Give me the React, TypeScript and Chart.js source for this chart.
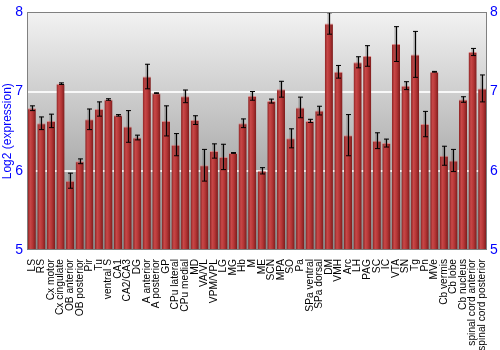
import React, { useEffect, useRef } from "react";
import { Chart, registerables } from "chart.js";

Chart.register(...registerables);

const categories = [
  "LS", "RS", "Cx motor", "Cx cingulate", "OB anterior", "OB posterior", "Pir", "Tu",
  "ventral S", "CA1", "CA2/CA3", "DG", "A anterior", "A posterior", "GP", "CPu lateral",
  "CPu medial", "MD", "VA/VL", "VPM/VPL", "LG", "MG", "Hb", "M", "ME", "SCN", "MPA", "SO",
  "Pa", "SPa ventral", "SPa dorsal", "DM", "VMH", "Arc", "LH", "PAG", "SC", "IC", "VTA",
  "SN", "Tg", "Pn", "MVe", "Cb vermis", "Cb lobe", "Cb nucleus", "spinal cord anterior",
  "spinal cord posterior",
];

const expression = [
  6.79, 6.60, 6.63, 7.10, 5.875, 6.12, 6.65, 6.78,
  6.90, 6.70, 6.56, 6.42, 7.19, 6.98, 6.63, 6.33,
  6.94, 6.64, 6.07, 6.25, 6.175, 6.225, 6.60, 6.946, 6.00, 6.88, 7.03, 6.41,
  6.80, 6.63, 6.76, 7.86, 7.25, 6.45, 7.37, 7.45, 6.38, 6.35, 7.60,
  7.075, 7.47, 6.59, 7.25, 6.19, 6.13, 6.90, 7.50,
  7.04,
];

const errors = [
  0.03, 0.08, 0.085, 0.01, 0.095, 0.03, 0.13, 0.09,
  0.01, 0.01, 0.20, 0.03, 0.155, 0.005, 0.19, 0.14,
  0.08, 0.055, 0.20, 0.09, 0.16, 0.005, 0.055, 0.055, 0.04, 0.025, 0.10, 0.12,
  0.13, 0.02, 0.055, 0.135, 0.08, 0.26, 0.07, 0.13, 0.10, 0.05, 0.22,
  0.05, 0.29, 0.16, 0.005, 0.12, 0.14, 0.035, 0.045,
  0.17,
];

const yTicks = [5, 6, 7, 8];

const BLUE = "#0000ff";

const backgroundPlugin = {
  id: "bgGradient",
  beforeDraw(chart: any) {
    const { ctx, chartArea, width, height } = chart;
    ctx.save();
    ctx.fillStyle = "#ffffff";
    ctx.fillRect(0, 0, width, height);
    const g = ctx.createLinearGradient(0, chartArea.top, 0, chartArea.bottom);
    g.addColorStop(0, "#f2f2f2");
    g.addColorStop(1, "#888888");
    ctx.fillStyle = g;
    ctx.fillRect(chartArea.left, chartArea.top, chartArea.right - chartArea.left, chartArea.bottom - chartArea.top);
    ctx.restore();
  },
  afterDraw(chart: any) {
    const { ctx, chartArea } = chart;
    ctx.save();
    ctx.strokeStyle = "#808080";
    ctx.lineWidth = 1;
    ctx.strokeRect(
      Math.round(chartArea.left) + 0.5,
      Math.round(chartArea.top) + 0.5,
      Math.round(chartArea.right - chartArea.left) - 1,
      Math.round(chartArea.bottom - chartArea.top) - 1
    );
    ctx.restore();
  },
};

const errorBarPlugin = {
  id: "errorBars",
  afterDatasetsDraw(chart: any) {
    const { ctx } = chart;
    const yScale = chart.scales.y;
    const meta = chart.getDatasetMeta(0);
    ctx.save();
    meta.data.forEach((bar: any, i: number) => {
      const v = expression[i];
      const e = errors[i];
      const x = Math.round(bar.x) + 0.5;
      const yTop = yScale.getPixelForValue(v + e);
      const yBot = yScale.getPixelForValue(v - e);
      const cap = 2.5;
      ctx.strokeStyle = "rgba(60,60,60,0.35)";
      ctx.lineWidth = 3;
      ctx.beginPath();
      ctx.moveTo(x - 0.5, yTop - 0.5);
      ctx.lineTo(x - 0.5, yBot - 0.5);
      ctx.stroke();
      ctx.strokeStyle = "#000000";
      ctx.lineWidth = 1;
      ctx.beginPath();
      ctx.moveTo(x, yTop);
      ctx.lineTo(x, yBot);
      ctx.moveTo(x - cap, yTop);
      ctx.lineTo(x + cap, yTop);
      ctx.moveTo(x - cap, yBot);
      ctx.lineTo(x + cap, yBot);
      ctx.stroke();
    });
    ctx.restore();
  },
};

export default function App() {
  const canvasRef = useRef<HTMLCanvasElement | null>(null);

  useEffect(() => {
    if (!canvasRef.current) return;
    const chart = new Chart(canvasRef.current, {
      type: "bar",
      data: {
        labels: categories,
        datasets: [
          {
            data: expression,
            base: 5,
            barPercentage: 0.85,
            categoryPercentage: 1,
            borderWidth: { top: 1, left: 0, right: 0, bottom: 0 },
            borderColor: "rgba(225,130,130,0.9)",
            borderSkipped: false,
            backgroundColor: (ctx: any) => {
              const c = ctx.chart;
              const xs = c.scales && c.scales.x;
              if (!xs || ctx.dataIndex === undefined) return "#b03030";
              const x = xs.getPixelForValue(ctx.dataIndex);
              const w = (xs.width / categories.length) * 0.85;
              if (!isFinite(x) || !isFinite(w) || w <= 0) return "#b03030";
              const g = c.ctx.createLinearGradient(x - w / 2, 0, x + w / 2, 0);
              g.addColorStop(0, "#8a2222");
              g.addColorStop(0.3, "#c84848");
              g.addColorStop(0.6, "#b53636");
              g.addColorStop(1, "#7c1c1c");
              return g;
            },
          },
        ],
      },
      options: {
        animation: false,
        responsive: false,
        maintainAspectRatio: false,
        devicePixelRatio: 1,
        layout: { padding: { top: 8, left: 0, right: 0, bottom: 0 } },
        plugins: {
          legend: { display: false },
          tooltip: { enabled: false },
        },
        scales: {
          x: {
            type: "category",
            grid: { display: false },
            border: { display: false },
            ticks: {
              autoSkip: false,
              maxRotation: 90,
              minRotation: 90,
              padding: 1,
              color: "#000000",
              font: { family: "Liberation Sans, Arial, sans-serif", size: 10.2 },
            },
            afterFit: (s: any) => {
              s.height = 100;
            },
          },
          y: {
            position: "left",
            min: 5,
            max: 8,
            afterBuildTicks: (s: any) => {
              s.ticks = yTicks.map((v) => ({ value: v }));
            },
            grid: {
              color: "rgba(255,255,255,0.85)",
              lineWidth: 2,
              drawTicks: false,
            },
            border: { display: false },
            ticks: {
              color: BLUE,
              padding: 4,
              font: { family: "Liberation Sans, Arial, sans-serif", size: 14 },
            },
            title: {
              display: true,
              text: "Log2 (expression)",
              color: BLUE,
              padding: 0,
              font: { family: "Liberation Sans, Arial, sans-serif", size: 12 },
            },
            afterFit: (s: any) => {
              s.width = 27;
            },
          },
          y2: {
            position: "right",
            min: 5,
            max: 8,
            afterBuildTicks: (s: any) => {
              s.ticks = yTicks.map((v) => ({ value: v }));
            },
            grid: { display: false, drawTicks: false },
            border: { display: false },
            ticks: {
              color: BLUE,
              padding: 3,
              font: { family: "Liberation Sans, Arial, sans-serif", size: 14 },
            },
            afterFit: (s: any) => {
              s.width = 13;
            },
          },
        },
      },
      plugins: [backgroundPlugin, errorBarPlugin],
    });
    return () => chart.destroy();
  }, []);

  return (
    <div style={{ position: "fixed", left: 0, top: 0, width: 500, height: 350, background: "#fff" }}>
      <canvas ref={canvasRef} width={500} height={350} style={{ display: "block" }} />
    </div>
  );
}
